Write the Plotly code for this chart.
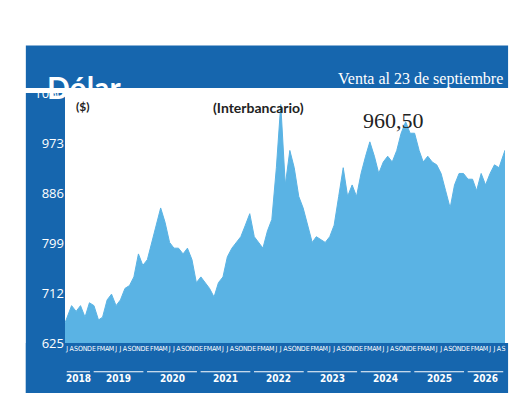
import plotly.graph_objects as go
import pandas as pd

# monthly closing values (Jul 2018 - Sep 2026)
v2018 = [660, 690, 680, 690, 670, 695]
v2019 = [690, 665, 670, 700, 710, 690, 700, 720, 725, 740, 780, 760]
v2020 = [770, 800, 830, 860, 835, 800, 790, 790, 780, 790, 770, 730]
v2021 = [740, 730, 720, 705, 730, 740, 775, 790, 800, 810, 830, 850]
v2022 = [810, 800, 790, 820, 840, 930, 1040, 900, 960, 930, 880, 860]
v2023 = [830, 800, 810, 805, 800, 810, 830, 880, 930, 880, 900, 880]
v2024 = [920, 950, 975, 950, 920, 940, 950, 940, 960, 990, 1010, 990]
v2025 = [990, 960, 940, 950, 940, 935, 920, 890, 860, 900, 920, 920]
v2026 = [910, 910, 890, 920, 900, 920, 935, 930, 960.5]
values = v2018 + v2019 + v2020 + v2021 + v2022 + v2023 + v2024 + v2025 + v2026
dates = pd.date_range("2018-07-01", periods=len(values), freq="MS") + pd.Timedelta(days=14)
dates = [pd.Timestamp("2018-07-01")] + list(dates[1:-1]) + [pd.Timestamp("2026-09-25")]

month_letters = ["E", "F", "M", "A", "M", "J", "J", "A", "S", "O", "N", "D"]
years = [2018, 2019, 2020, 2021, 2022, 2023, 2024, 2025, 2026]
y_ticks = [625, 712, 799, 886, 973, 1060]

DARK = "#1666ae"
FILL = "#5ab3e4"

fig = go.Figure(go.Scatter(x=dates, y=values, fill="tozeroy", mode="lines",
                           line=dict(color=FILL, width=1), fillcolor=FILL))

tick_dates = pd.date_range("2018-07-01", "2026-09-01", freq="MS") + pd.Timedelta(days=14)
fig.update_xaxes(range=["2018-07-01", "2026-09-25"], tickvals=list(tick_dates),
                 ticktext=[month_letters[d.month - 1] for d in tick_dates],
                 tickangle=0, tickfont=dict(color="white", size=7, family="DejaVu Sans Condensed"),
                 showgrid=False, ticks="", zeroline=False, automargin=False)
fig.update_yaxes(range=[625, 1060], tickvals=y_ticks, showgrid=False, zeroline=False,
                 tickfont=dict(color="white", size=13, family="Open Sans"), ticks="",
                 automargin=False)

shapes = [
    dict(type="rect", xref="paper", yref="paper", x0=-0.089, x1=1.007, y0=1.02, y1=1.19,
         fillcolor=DARK, line_width=0, layer="below"),
    dict(type="rect", xref="paper", yref="paper", x0=-0.089, x1=0, y0=-0.2, y1=1,
         fillcolor=DARK, line_width=0, layer="below"),
    dict(type="rect", xref="paper", yref="paper", x0=-0.089, x1=1.007, y0=-0.2, y1=0,
         fillcolor=DARK, line_width=0, layer="below"),
]
annotations = [
    dict(text="<b>Dólar</b>", xref="paper", yref="paper", x=-0.045, y=1.105, xanchor="left",
         showarrow=False, font=dict(size=30, color="white", family="Lato")),
    dict(text="Venta al 23 de septiembre", xref="paper", yref="paper", x=1.0, y=1.1,
         xanchor="right", showarrow=False, font=dict(size=16, color="white", family="Liberation Serif")),
    dict(text="<b>($)</b>", xref="paper", yref="paper", x=0.02, y=0.985, xanchor="left",
         showarrow=False, font=dict(size=12, color="#222", family="Lato")),
    dict(text="<b>(Interbancario)</b>", xref="paper", yref="paper", x=0.44, y=0.985,
         showarrow=False, font=dict(size=14, color="#222", family="Lato")),
    dict(text="960,50", xref="paper", yref="paper", x=0.82, y=0.95,
         showarrow=False, font=dict(size=22, color="#222", family="Liberation Serif")),
]
for yr in years:
    start = pd.Timestamp(f"{yr}-01-01") if yr > 2018 else pd.Timestamp("2018-07-01")
    end = pd.Timestamp(f"{yr}-12-31") if yr < 2026 else pd.Timestamp("2026-09-25")
    mid = start + (end - start) / 2
    annotations.append(dict(text=f"<b>{yr}</b>", x=mid, xref="x", yref="paper", y=-0.17,
                            showarrow=False, font=dict(size=10, color="white", family="DejaVu Sans Condensed")))
    shapes.append(dict(type="line", xref="x", yref="paper", x0=start + pd.Timedelta(days=12),
                       x1=end - pd.Timedelta(days=12), y0=-0.115, y1=-0.115,
                       line=dict(color="white", width=1)))

fig.update_layout(width=520, height=419, margin=dict(l=57, r=23, t=85, b=84, autoexpand=False),
                  paper_bgcolor="white", plot_bgcolor="white", showlegend=False,
                  shapes=shapes, annotations=annotations)

fig.write_html("out.html")
